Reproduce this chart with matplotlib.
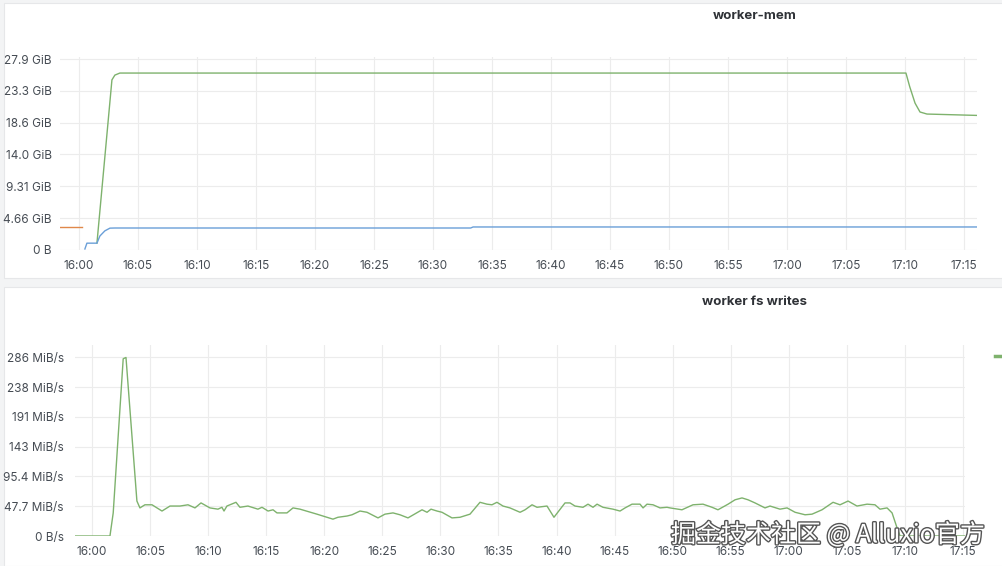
import matplotlib
matplotlib.use("Agg")
import matplotlib.pyplot as plt
import matplotlib.patheffects as pe
from matplotlib.patches import Rectangle

plt.rcParams['font.family'] = ['Inter', 'DejaVu Sans']

# minutes after 16:00
time_ticks = [0, 5, 10, 15, 20, 25, 30, 35, 40, 45, 50, 55, 60, 65, 70, 75]
time_labels = ['16:00', '16:05', '16:10', '16:15', '16:20', '16:25', '16:30', '16:35',
               '16:40', '16:45', '16:50', '16:55', '17:00', '17:05', '17:10', '17:15']

# worker-mem (GiB)
mem_ticks = [0, 4.66, 9.31, 14.0, 18.6, 23.3, 27.9]
mem_labels = ['0 B', '4.66 GiB', '9.31 GiB', '14.0 GiB', '18.6 GiB', '23.3 GiB', '27.9 GiB']

mem_green_t = [1.53, 2.8, 3.05, 3.47, 20, 40, 60, 70.08, 70.4, 70.85, 71.27, 71.86, 76.1]
mem_green_v = [1.0, 24.9, 25.6, 25.9, 25.9, 25.9, 25.9, 25.9, 23.9, 21.5, 20.2, 19.9, 19.7]

mem_blue_t = [0.51, 0.68, 1.53, 1.78, 2.2, 2.63, 3.05, 33.2, 33.4, 76.1]
mem_blue_v = [0.15, 1.0, 1.0, 2.05, 2.8, 3.2, 3.22, 3.22, 3.37, 3.37]

mem_orange_t = [-1.6, 0.25]
mem_orange_v = [3.37, 3.37]

# worker fs writes (MiB/s)
wr_ticks = [0, 47.7, 95.4, 143, 191, 238, 286]
wr_labels = ['0 B/s', '47.7 MiB/s', '95.4 MiB/s', '143 MiB/s', '191 MiB/s', '238 MiB/s', '286 MiB/s']

wr_t = [-1.46, 1.55, 1.83, 2.69, 2.93, 3.87, 4.13, 4.56, 5.17, 6.03, 6.72, 7.58, 8.27,
        8.87, 9.39, 10.16, 10.85, 11.19, 11.37, 11.62, 12.40, 12.74, 13.43, 14.29, 14.64,
        15.16, 15.59, 15.93, 16.79, 17.31, 17.91, 19.37, 20.75, 21.18, 21.96, 22.39, 23.08,
        23.68, 24.63, 25.23, 25.92, 26.52, 27.21, 28.42, 28.85, 29.19, 29.71, 30.14, 31.00,
        31.69, 32.55, 33.41, 34.01, 34.44, 34.87, 35.39, 35.99, 36.86, 37.29, 37.89, 38.32,
        39.18, 39.78, 40.73, 41.16, 41.59, 42.28, 42.71, 43.14, 43.49, 44.00, 44.86, 45.47,
        45.90, 46.50, 47.19, 47.45, 47.79, 48.31, 48.91, 49.51, 49.77, 50.80, 51.75, 52.61,
        53.39, 53.90, 54.77, 55.37, 55.97, 56.49, 57.09, 57.95, 58.38, 59.24, 59.85, 60.54,
        61.40, 62.00, 62.86, 63.81, 64.41, 65.10, 65.87, 66.74, 67.42, 67.85, 68.46, 68.89,
        69.32, 69.58, 75.17]
wr_v = [0, 0, 37, 284, 286, 56, 45, 50, 50, 40, 48, 48, 50,
        45, 53, 45, 43, 46, 40, 48, 54, 46, 48, 43, 46,
        40, 42, 37, 37, 45, 43, 35, 27, 30, 32, 34, 40,
        38, 29, 35, 37, 34, 29, 42, 38, 43, 40, 38, 29,
        30, 35, 54, 51, 50, 54, 48, 45, 38, 42, 50, 46,
        48, 30, 53, 53, 48, 46, 51, 46, 51, 46, 43, 40,
        45, 51, 51, 45, 51, 50, 45, 46, 45, 42, 50, 51,
        46, 42, 51, 58, 61, 58, 53, 45, 48, 43, 45, 38,
        34, 35, 42, 54, 50, 56, 48, 51, 50, 43, 45, 37,
        13, 0, 0]

green = '#7EB26D'
blue = '#6a9fd8'
orange = '#E0884A'
grid_c = '#ececec'
text_c = '#464c54'

fig = plt.figure(figsize=(10.03, 5.66), dpi=100)
fig.patch.set_facecolor('#f3f4f5')
W, H = 1003, 566
for (x0, y0, x1, y1) in [(4, 3, 1003, 278), (4, 287, 1003, 566)]:
    fig.patches.append(Rectangle((x0 / W, 1 - y1 / H), (x1 - x0) / W, (y1 - y0) / H,
                                 transform=fig.transFigure, facecolor='white',
                                 edgecolor='#e6e7e9', lw=0.8, zorder=-10))


def style(ax, yt, yl, pad_y):
    ax.set_facecolor('none')
    for s in ax.spines.values():
        s.set_visible(False)
    ax.set_xticks(time_ticks)
    ax.set_xticklabels(time_labels)
    ax.set_yticks(yt)
    ax.set_yticklabels(yl)
    ax.tick_params(length=0, labelsize=8.5, colors=text_c)
    ax.tick_params(axis='y', pad=pad_y)
    ax.tick_params(axis='x', pad=7)
    ax.grid(True, color=grid_c, lw=0.8)
    ax.set_axisbelow(True)


ax1 = fig.add_axes([60 / W, 1 - 250 / H, 917 / W, 193 / H])
ax1.plot(mem_orange_t, mem_orange_v, color=orange, lw=1)
ax1.plot(mem_green_t, mem_green_v, color=green, lw=1)
ax1.plot(mem_blue_t, mem_blue_v, color=blue, lw=1)
ax1.set_xlim(-1.6, 76.1)
ax1.set_ylim(0, 28.25)
style(ax1, mem_ticks, mem_labels, 6)

ax2 = fig.add_axes([75 / W, 1 - 536 / H, 890 / W, 191 / H])
ax2.plot(wr_t, wr_v, color=green, lw=1)
ax2.set_xlim(-1.46, 75.17)
ax2.set_ylim(0, 306)
style(ax2, wr_ticks, wr_labels, 8)

fig.text(755 / W, 1 - 16 / H, 'worker-mem', ha='center', va='center',
         fontsize=9.5, fontweight='bold', color='#2f3237')
fig.text(755 / W, 1 - 302 / H, 'worker fs writes', ha='center', va='center',
         fontsize=9.5, fontweight='bold', color='#2f3237')

# legend fragment at right edge of lower panel
fig.add_artist(plt.Line2D([995 / W, 1003 / W], [1 - 356 / H, 1 - 356 / H],
                          color=green, lw=2.5, transform=fig.transFigure))

fig.text(828 / W, 1 - 535 / H, '掘金技术社区 @ Alluxio官方', ha='center', va='center',
         fontsize=18, color='white', family=['Noto Sans CJK SC', 'DejaVu Sans'],
         path_effects=[pe.withStroke(linewidth=2, foreground='#555555')])

fig.savefig('out.png', dpi=100, facecolor=fig.get_facecolor())
